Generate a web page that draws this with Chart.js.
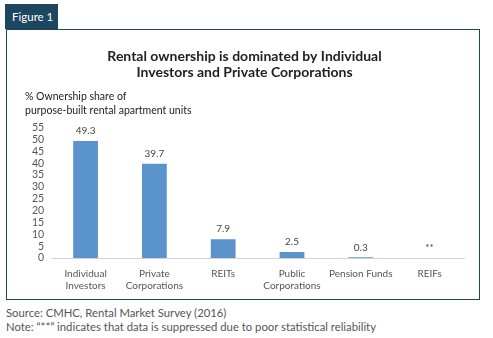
<!DOCTYPE html>
<html>
<head>
<meta charset="utf-8">
<script src="https://cdn.jsdelivr.net/npm/chart.js@4"></script>
<style>
  body { margin: 0; background: #fff; font-family: Lato, "Open Sans", sans-serif; }
  #tab {
    position: absolute; left: 5px; top: 4px; width: 53px; height: 25px;
    background: #1d4660; color: #fff; font-size: 11.5px; line-height: 25px;
    padding-left: 7px; box-sizing: border-box;
  }
  #box {
    position: absolute; left: 6px; top: 29px; width: 474px; height: 271px;
    border: 1.5px solid #1d4660; box-sizing: border-box;
  }
  #wrap { position: absolute; left: 0; top: 0; width: 471px; height: 268px; }
  .foot { position: absolute; left: 6px; font-size: 11.3px; color: #555; }
</style>
</head>
<body>
<div id="tab">Figure 1</div>
<div id="box"><div id="wrap"><canvas id="c"></canvas></div></div>
<div class="foot" style="top:306px">Source: CMHC, Rental Market Survey (2016)</div>
<div class="foot" style="top:320px">Note: “**” indicates that data is suppressed due to poor statistical reliability</div>
<script>
// 차트 데이터
const categories = [
  ['Individual', 'Investors'],
  ['Private', 'Corporations'],
  'REITs',
  ['Public', 'Corporations'],
  'Pension Funds',
  'REIFs'
];
const ownershipShare = [49.3, 39.7, 7.9, 2.5, 0.3, null];
const valueLabels = ['49.3', '39.7', '7.9', '2.5', '0.3', '**'];
const yTicks = [0, 5, 10, 15, 20, 25, 30, 35, 40, 45, 50, 55];

// 막대 위 값 표시
const barLabels = {
  id: 'barLabels',
  afterDatasetsDraw(chart) {
    const { ctx } = chart;
    const meta = chart.getDatasetMeta(0);
    const yScale = chart.scales.y;
    ctx.save();
    ctx.font = '10px Lato, sans-serif';
    ctx.fillStyle = '#444';
    ctx.textAlign = 'center';
    ctx.textBaseline = 'bottom';
    meta.data.forEach((bar, i) => {
      const v = ownershipShare[i];
      const top = v == null ? yScale.getPixelForValue(0) : bar.y;
      ctx.fillText(valueLabels[i], bar.x, top - 5);
    });
    ctx.restore();
  }
};

new Chart(document.getElementById('c'), {
  type: 'bar',
  data: {
    labels: categories,
    datasets: [{
      data: ownershipShare,
      backgroundColor: '#5b93cd',
      categoryPercentage: 1,
      barPercentage: 0.36
    }]
  },
  options: {
    responsive: true,
    maintainAspectRatio: false,
    animation: false,
    layout: { padding: { left: 18, right: 14, top: 0, bottom: -4 } },
    plugins: {
      legend: { display: false },
      tooltip: { enabled: false },
      title: {
        display: true,
        text: ['Rental ownership is dominated by Individual', 'Investors and Private Corporations'],
        color: '#222',
        font: { family: 'Lato, sans-serif', size: 14, weight: 'bold', lineHeight: 1.15 },
        padding: { top: 18, bottom: 7 }
      },
      subtitle: {
        display: true,
        align: 'start',
        text: ['% Ownership share of', 'purpose-built rental apartment units'],
        color: '#222',
        font: { family: 'Lato, sans-serif', size: 10.5, lineHeight: 1.35 },
        padding: { top: 2, bottom: 10 }
      }
    },
    scales: {
      x: {
        grid: { display: false, drawTicks: false },
        border: { display: true, color: '#d4d4d4' },
        ticks: { color: '#555', font: { family: 'Lato, sans-serif', size: 10 }, maxRotation: 0, autoSkip: false, padding: 10 }
      },
      y: {
        min: 0,
        max: 55,
        afterBuildTicks(axis) { axis.ticks = yTicks.map(v => ({ value: v })); },
        grid: { display: false, drawTicks: false },
        border: { display: false },
        ticks: { color: '#555', font: { family: 'Lato, sans-serif', size: 10.5 }, padding: 7, autoSkip: false }
      }
    }
  },
  plugins: [barLabels]
});
</script>
</body>
</html>
